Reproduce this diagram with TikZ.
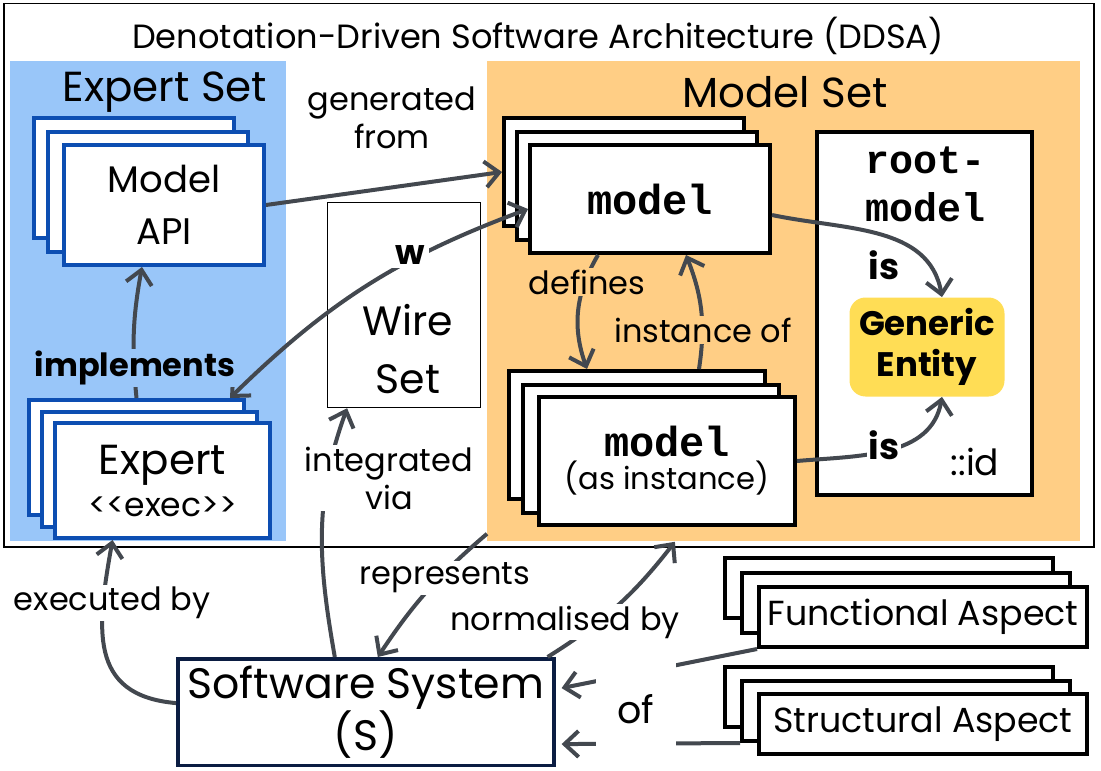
\documentclass[tikz,border=0pt]{standalone}
\usepackage{fontspec}
\setmainfont{Poppins}
\setmonofont{Liberation Mono}
\usetikzlibrary{arrows.meta,positioning}
\definecolor{expertbg}{RGB}{153,198,249}
\definecolor{expertline}{RGB}{13,78,178}
\definecolor{modelbg}{RGB}{255,206,133}
\definecolor{entityyellow}{RGB}{255,221,85}
\definecolor{linkgray}{RGB}{67,72,79}
\definecolor{systemnavy}{RGB}{11,29,66}
\tikzset{
	setbg/.style={anchor=north west, inner sep=0pt},
	expcard/.style={draw=expertline, line width=2pt, fill=white, anchor=north west, align=center, inner sep=0pt},
	modcard/.style={draw=black, line width=2pt, fill=white, anchor=north west, align=center, inner sep=0pt},
	link/.style={draw=linkgray, line width=2pt, -{Straight Barb[length=7pt,width=13pt]}},
	lbl/.style={font=\fontsize{16}{19}\selectfont, inner sep=1pt, align=center},
	monobig/.style={font=\fontsize{21}{24}\selectfont\ttfamily\bfseries}
}
\begin{document}
\begin{tikzpicture}[x=0.5pt,y=-0.5pt]
	\useasboundingbox (0,0) rectangle (1101,770);
	\node[draw, line width=0.75pt, anchor=north west, inner sep=0pt, minimum width=545pt, minimum height=271.5pt] (ddsa) at (3,3) {};
	\node[font=\fontsize{16.8}{20}\selectfont] (title) at (538,36) {Denotation-Driven Software Architecture (DDSA)};
	\node[setbg, fill=expertbg, minimum width=138pt, minimum height=240pt] (expertset) at (10,61) {};
	\node[setbg, fill=modelbg, minimum width=296.5pt, minimum height=240pt] (modelset) at (487,61) {};
	\node[font=\fontsize{21}{24}\selectfont] (expertname) at (165,92) {Expert Set};
	\node[font=\fontsize{21}{24}\selectfont] (modelname) at (785,92) {Model Set};
	\node[setbg, draw, line width=0.6pt, fill=white, minimum width=76.5pt, minimum height=102.5pt] (wire) at (327,202) {};
	\node[font=\fontsize{20.5}{29}\selectfont, align=center] (wirename) at (408,349) {Wire\\Set};

	\node[expcard, minimum width=100pt, minimum height=60pt] (apiC) at (32,116) {};
	\node[expcard, minimum width=100pt, minimum height=60pt] (apiB) at (46,130) {};
	\node[expcard, minimum width=100pt, minimum height=60pt, font=\fontsize{18.5}{26}\selectfont] (api) at (62,143) {Model\\API};
	\node[expcard, minimum width=107.5pt, minimum height=57.5pt] (expC) at (27,398) {};
	\node[expcard, minimum width=107.5pt, minimum height=57.5pt] (expB) at (40,410) {};
	\node[expcard, minimum width=107.5pt, minimum height=57.5pt, font=\fontsize{21}{23}\selectfont] (exp) at (53,421) {Expert\\[-2pt]{\fontsize{16.5}{18}\selectfont <{}<exec>{}>}};

	\node[modcard, minimum width=120pt, minimum height=54pt] (modC) at (502,116) {};
	\node[modcard, minimum width=120pt, minimum height=54pt] (modB) at (515,130) {};
	\node[modcard, minimum width=120pt, minimum height=54pt, monobig] (mod) at (528,143) {model};
	\node[modcard, minimum width=128pt, minimum height=64pt] (instC) at (507,369) {};
	\node[modcard, minimum width=128pt, minimum height=64pt] (instB) at (521,383) {};
	\node[modcard, minimum width=128pt, minimum height=64pt] (inst) at (537,395) {{\fontsize{21}{24}\selectfont\ttfamily\bfseries model}\\[1pt]{\fontsize{15.3}{17}\selectfont (as instance)}};

	\node[modcard, minimum width=107.5pt, minimum height=181.5pt] (root) at (815,130) {};
	\node[font=\fontsize{20}{24}\selectfont\ttfamily\bfseries, align=center] (rootname) at (925,184) {root-\\model};
	\node[fill=entityyellow, rounded corners=8pt, minimum width=77.5pt, minimum height=49.5pt, align=center, font=\fontsize{17}{20.5}\selectfont\bfseries] (generic) at (927,347) {Generic\\Entity};
	\node[lbl, font=\fontsize{18}{21}\selectfont] (rootid) at (975,462) {::id};

	\node[draw=systemnavy, line width=1.8pt, fill=white, anchor=north west, minimum width=188pt, minimum height=52pt, align=center, font=\fontsize{21.3}{25}\selectfont] (ss) at (176,657) {Software System\\(S)};
	\node[modcard, minimum width=164pt, minimum height=30pt] (funC) at (723,556) {};
	\node[modcard, minimum width=164pt, minimum height=30pt] (funB) at (740,571) {};
	\node[modcard, minimum width=164pt, minimum height=30pt, font=\fontsize{17.4}{20}\selectfont] (fun) at (757,585) {Functional Aspect};
	\node[modcard, minimum width=164pt, minimum height=30pt] (strC) at (723,665) {};
	\node[modcard, minimum width=164pt, minimum height=30pt] (strB) at (740,679) {};
	\node[modcard, minimum width=164pt, minimum height=30pt, font=\fontsize{17.4}{20}\selectfont] (str) at (757,692) {Structural Aspect};

	\draw[link] (api.east) -- (modC.west);
	\draw[link, {Straight Barb[length=7pt,width=13pt]}-{Straight Barb[length=7pt,width=13pt]}] ([xshift=-8pt]expC.north east) to[bend left=12] node[pos=0.65, yshift=3pt, fill=white, inner sep=2pt, font=\fontsize{17}{20}\selectfont\bfseries] (wlabel) {w} ([yshift=-5pt]mod.west);
	\draw[link] (expC.north) to[bend left=8] ([xshift=-11pt]api.south);
	\draw[link] ([xshift=-26pt]mod.south) to[bend right=25] ([xshift=-25pt]instC.north);
	\draw[link] ([xshift=31pt]instC.north) to[bend right=15] ([xshift=18pt]mod.south);
	\draw[link] ([yshift=-8pt]mod.east) to[out=-12, in=100] ([xshift=7.5pt]generic.north);
	\draw[link] (inst.east) to[out=5, in=-100] ([xshift=7.5pt]generic.south);
	\draw[link] ([yshift=4.5pt]ss.west) to[out=175, in=-100, looseness=1.3] ([xshift=-25pt]exp.south);
	\draw[link] ([xshift=-15.5pt]ss.north) to[out=100, in=-110] ([xshift=-28.5pt]wire.south);
	\draw[link] ([yshift=4pt]modelset.south west) to[bend right=8] ([xshift=6pt]ss.north);
	\draw[link] ([xshift=-4pt]ss.north east) to[bend right=10] ([xshift=-54.5pt]modelset.south);
	\draw[link] (fun.south west) -- ([xshift=3pt,yshift=12pt]ss.east);
	\draw[link] (strB.south west) -- ([xshift=3pt,yshift=-16pt]ss.east);

	\node[lbl] (genfrom) at (392,118) {generated\\from};
	\node[lbl, fill=expertbg, font=\fontsize{16}{19}\selectfont\bfseries] (implements) at (135,368) {implements};
	\node[lbl, fill=modelbg] (defines) at (587,282) {defines};
	\node[lbl, fill=modelbg] (instanceof) at (703,330) {instance of};
	\node[lbl, fill=white, font=\fontsize{18}{21}\selectfont\bfseries] (isA) at (884,265) {is};
	\node[lbl, fill=white, font=\fontsize{18}{21}\selectfont\bfseries] (isB) at (884,445) {is};
	\node[lbl, fill=white] (executed) at (112,603) {executed by};
	\node[lbl, fill=white] (integrated) at (389,478) {integrated\\via};
	\node[lbl, fill=white] (represents) at (445,578) {represents};
	\node[lbl, fill=white] (normalised) at (565,622) {normalised by};
	\node[lbl, fill=white, font=\fontsize{19}{22}\selectfont, minimum width=40pt, minimum height=50pt] (of) at (636,709) {of};
\end{tikzpicture}
\end{document}
